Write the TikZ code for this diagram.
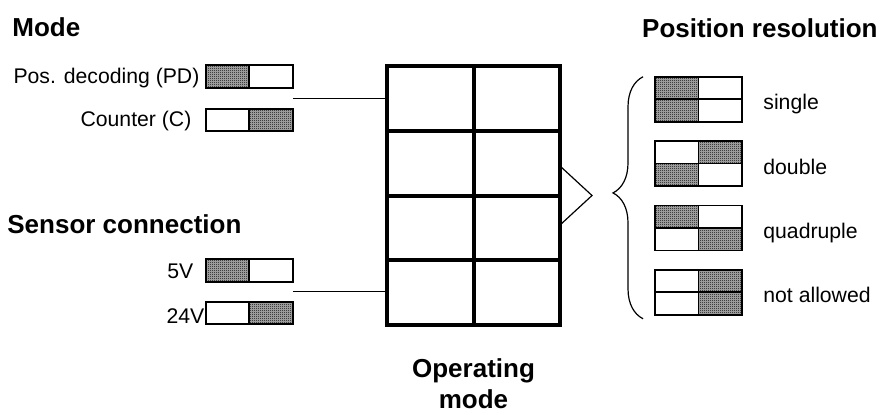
\documentclass[tikz,border=0pt]{standalone}
\usepackage{fontspec}
\setmainfont{Liberation Sans}
\usetikzlibrary{positioning, patterns, calc, decorations.pathreplacing}

\pgfdeclarepatternformonly{finechecks}{\pgfqpoint{0pt}{0pt}}{\pgfqpoint{1pt}{1pt}}{\pgfqpoint{1pt}{1pt}}{%
  \pgfpathrectangle{\pgfqpoint{0pt}{0pt}}{\pgfqpoint{0.5pt}{0.5pt}}%
  \pgfpathrectangle{\pgfqpoint{0.5pt}{0.5pt}}{\pgfqpoint{0.5pt}{0.5pt}}%
  \pgfusepath{fill}}

\begin{document}
\begin{tikzpicture}[x=0.5pt, y=-0.5pt]
    % Styles
    \tikzstyle{heading} = [font=\fontsize{13}{15.5}\selectfont\bfseries, inner sep=0pt]
    \tikzstyle{txt} = [font=\fontsize{10.6}{12}\selectfont, inner sep=0pt]
    \tikzstyle{cell} = [rectangle, draw, line width=2pt, minimum width=43.25pt, minimum height=32.375pt, inner sep=0pt, outer sep=0pt]
    \tikzstyle{sw} = [rectangle, draw, line width=0.9pt, minimum width=21.75pt, minimum height=11.25pt, inner sep=0pt, outer sep=0pt]
    \tikzstyle{swon} = [sw, fill=black!30, postaction={pattern=finechecks}]
    \tikzstyle{wire} = [line width=0.6pt]

    \useasboundingbox (0,0) rectangle (886,414);

    % Headings
    \node [heading, anchor=base west] (mode) at (12,36) {Mode};
    \node [heading, anchor=base east] (resol) at (878,37) {Position resolution};
    \node [heading, anchor=base west] (sensor) at (7,233) {Sensor connection};

    % Operating mode grid
    \foreach \r in {1,...,4}
      \foreach \c in {1,2}
        \node [cell] (cell-\r-\c) at ({387+86.5*(\c-0.5)}, {66+64.75*(\r-0.5)}) {};
    \node [heading, align=center, below=16.5pt of cell-4-1.south east] (opmode) {Operating\\mode};

    % Mode switches
    \node [swon] (pd-l) at (227.5,76.5) {};
    \node [sw, right=0pt of pd-l] (pd-r) {};
    \node [txt, anchor=base east] (pd-txt) at ($(pd-l.west)+(-6,6.5)$) {Pos. decoding (PD)};
    \node [sw] (cnt-l) at (227.5,120) {};
    \node [swon, right=0pt of cnt-l] (cnt-r) {};
    \node [txt, anchor=base east] (cnt-txt) at ($(cnt-l.west)+(-14,6)$) {Counter (C)};

    % Sensor switches
    \node [swon] (v5-l) at (227.5,270.5) {};
    \node [sw, right=0pt of v5-l] (v5-r) {};
    \node [txt, anchor=base east] (v5-txt) at ($(v5-l.west)+(-12,7.5)$) {5V};
    \node [sw] (v24-l) at (227.5,313) {};
    \node [swon, right=0pt of v24-l] (v24-r) {};
    \node [txt, anchor=base east] (v24-txt) at ($(v24-l.west)+(-1,10)$) {24V};

    % Resolution switches
    \foreach \n/\t/\tl/\tr/\bl/\br/\name in {1/77/swon/sw/swon/sw/single,
        2/141.3/sw/swon/swon/sw/double, 3/205.7/swon/sw/sw/swon/quadruple,
        4/270/sw/swon/sw/swon/not allowed} {
      \node [\tl] (res\n-tl) at (676.75, {\t+11}) {};
      \node [\tr, right=0pt of res\n-tl] (res\n-tr) {};
      \node [\bl, below=0pt of res\n-tl] (res\n-bl) {};
      \node [\br, right=0pt of res\n-bl] (res\n-br) {};
      \node [txt, anchor=base west] (res\n-txt) at ($(res\n-tr.south east)+(21,10.5)$) {\name};
    }

    % Connectors
    \coordinate (modeend) at ($(pd-r.south east)!0.5!(cnt-r.north east)$);
    \coordinate (sensorend) at ($(v5-r.south east)!0.5!(v24-r.north east)$);
    \draw [wire] (modeend) -- (modeend -| cell-1-1.west);
    \draw [wire] (sensorend) -- (sensorend -| cell-4-1.west);
    \draw [wire] ($(cell-2-2.south east)+(0,-29.5)$) -- ++(32,29.5) -- ++(-32,29.5);
    \draw [wire, decorate, decoration={brace, amplitude=15pt, aspect=0.52}]
        ($(res4-bl.south west)+(-12,4)$) -- ($(res1-tl.north west)+(-12,0)$);
\end{tikzpicture}
\end{document}
